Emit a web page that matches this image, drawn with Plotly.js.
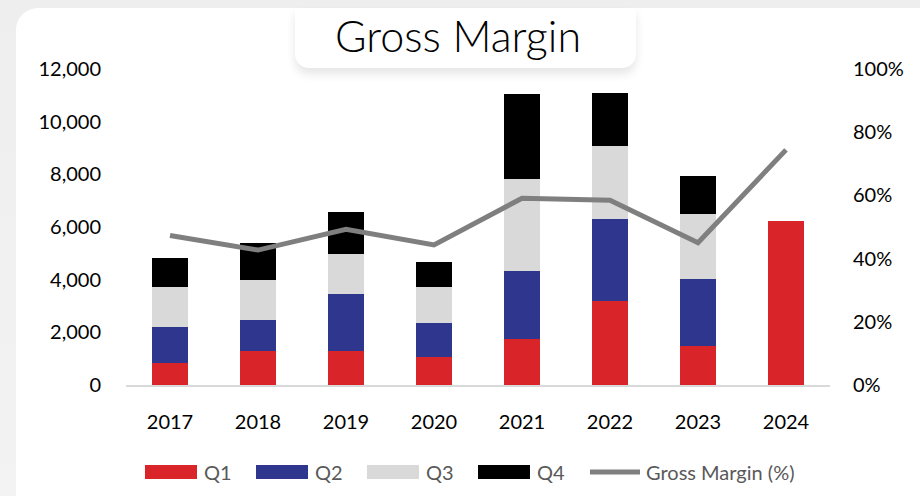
<!DOCTYPE html>
<html>
<head>
<meta charset="utf-8">
<script src="https://cdn.plot.ly/plotly-3.0.1.min.js"></script>
<style>
  html, body { margin:0; padding:0; width:920px; height:496px; overflow:hidden;
    background: linear-gradient(#eeeeee, #f3f3f3); }
  #card { position:absolute; left:16px; top:8px; width:940px; height:520px; background:#fff; border-radius:22px; }
  #tbox { position:absolute; left:295px; top:8px; width:341px; height:60px; background:#fff; border-radius:0 0 14px 14px;
    box-shadow: 0 6px 10px rgba(0,0,0,0.10); }
  #chart { position:absolute; left:0; top:0; width:920px; height:496px; }
</style>
</head>
<body>
<div id="card"></div>
<div id="tbox"></div>
<div id="chart"></div>
<script>
const years = ['2017','2018','2019','2020','2021','2022','2023','2024'];
const q1 = [820, 1300, 1280, 1060, 1740, 3190, 1490, 6220];
const q2 = [1390, 1170, 2160, 1280, 2590, 3130, 2520, null];
const q3 = [1520, 1520, 1520, 1370, 3480, 2770, 2500, null];
const q4 = [1080, 1390, 1600, 960, 3240, 2010, 1420, null];
const grossMargin = [47.3, 42.7, 49.3, 44.3, 59.1, 58.5, 45.0, 74.4];

const leftTicks = [0, 2000, 4000, 6000, 8000, 10000, 12000];
const leftTickLabels = ['0', '2,000', '4,000', '6,000', '8,000', '10,000', '12,000'];
const rightTicks = [0, 20, 40, 60, 80, 100];
const rightTickLabels = ['0%', '20%', '40%', '60%', '80%', '100%'];
const seriesNames = ['Q1', 'Q2', 'Q3', 'Q4', 'Gross Margin (%)'];
const seriesColors = ['#d9242a', '#2e368e', '#d9d9d9', '#000000', '#7f7f7f'];

const FONT = 'Lato, "Noto Sans", sans-serif';
const W = 920, H = 496;
const M = {l:126, r:90, t:69, b:111};
const PW = W - M.l - M.r, PH = H - M.t - M.b;
const px2x = p => (p - M.l) / PW;
const py2y = p => (H - M.b - p) / PH;

function bar(i, y) {
  return { type:'bar', name:seriesNames[i], x:years, y:y, marker:{color:seriesColors[i], line:{width:0}},
    hoverinfo:'skip', showlegend:false };
}
const data = [
  bar(0, q1), bar(1, q2), bar(2, q3), bar(3, q4),
  { type:'scatter', mode:'lines', name:seriesNames[4], x:years, y:grossMargin, yaxis:'y2',
    line:{color:seriesColors[4], width:5}, hoverinfo:'skip', showlegend:false }
];

// custom legend (wide swatches like the reference)
const legendY = 472;
const swatchStarts = [145, 256, 367, 478];
const shapes = [], annotations = [];
for (let i = 0; i < 4; i++) {
  shapes.push({type:'rect', xref:'paper', yref:'paper', x0:px2x(swatchStarts[i]), x1:px2x(swatchStarts[i]+52),
    y0:py2y(legendY+7), y1:py2y(legendY-7), fillcolor:seriesColors[i], line:{width:0}});
  annotations.push({xref:'paper', yref:'paper', x:px2x(swatchStarts[i]+57), y:py2y(legendY), xanchor:'left', yanchor:'middle',
    text:seriesNames[i], showarrow:false, font:{family:FONT, size:20, color:'#595959'}});
}
shapes.push({type:'line', xref:'paper', yref:'paper', x0:px2x(590), x1:px2x(640), y0:py2y(legendY), y1:py2y(legendY),
  line:{color:seriesColors[4], width:5}});
annotations.push({xref:'paper', yref:'paper', x:px2x(644), y:py2y(legendY), xanchor:'left', yanchor:'middle',
  text:seriesNames[4], showarrow:false, font:{family:FONT, size:20, color:'#595959'}});

const layout = {
  width:W, height:H,
  paper_bgcolor:'rgba(0,0,0,0)', plot_bgcolor:'rgba(0,0,0,0)',
  font:{family:FONT, size:20, color:'#000'},
  title:{text:'Gross Margin', font:{family:FONT, size:43, color:'#000', weight:300},
    x:458/W, xref:'container', xanchor:'center', y:0.925, yanchor:'middle', yref:'container'},
  margin:M,
  barmode:'stack', bargap:0.6,
  showlegend:false,
  shapes:shapes, annotations:annotations,
  xaxis:{type:'category', showgrid:false, showline:true, linecolor:'#d9d9d9', linewidth:2, ticks:'',
    tickfont:{size:20, color:'#000'}, ticklabelstandoff:18},
  yaxis:{range:[0,12000], tickmode:'array', tickvals:leftTicks, ticktext:leftTickLabels, showgrid:false, zeroline:false, showline:false,
    ticks:'', ticklabelstandoff:24, tickfont:{size:20, color:'#000'}},
  yaxis2:{range:[0,100], tickmode:'array', tickvals:rightTicks, ticktext:rightTickLabels, overlaying:'y', side:'right', showgrid:false,
    zeroline:false, showline:false, ticks:'', ticklabelstandoff:22, tickfont:{size:20, color:'#000'}}
};
Plotly.newPlot('chart', data, layout, {displayModeBar:false, staticPlot:true});
</script>
</body>
</html>
